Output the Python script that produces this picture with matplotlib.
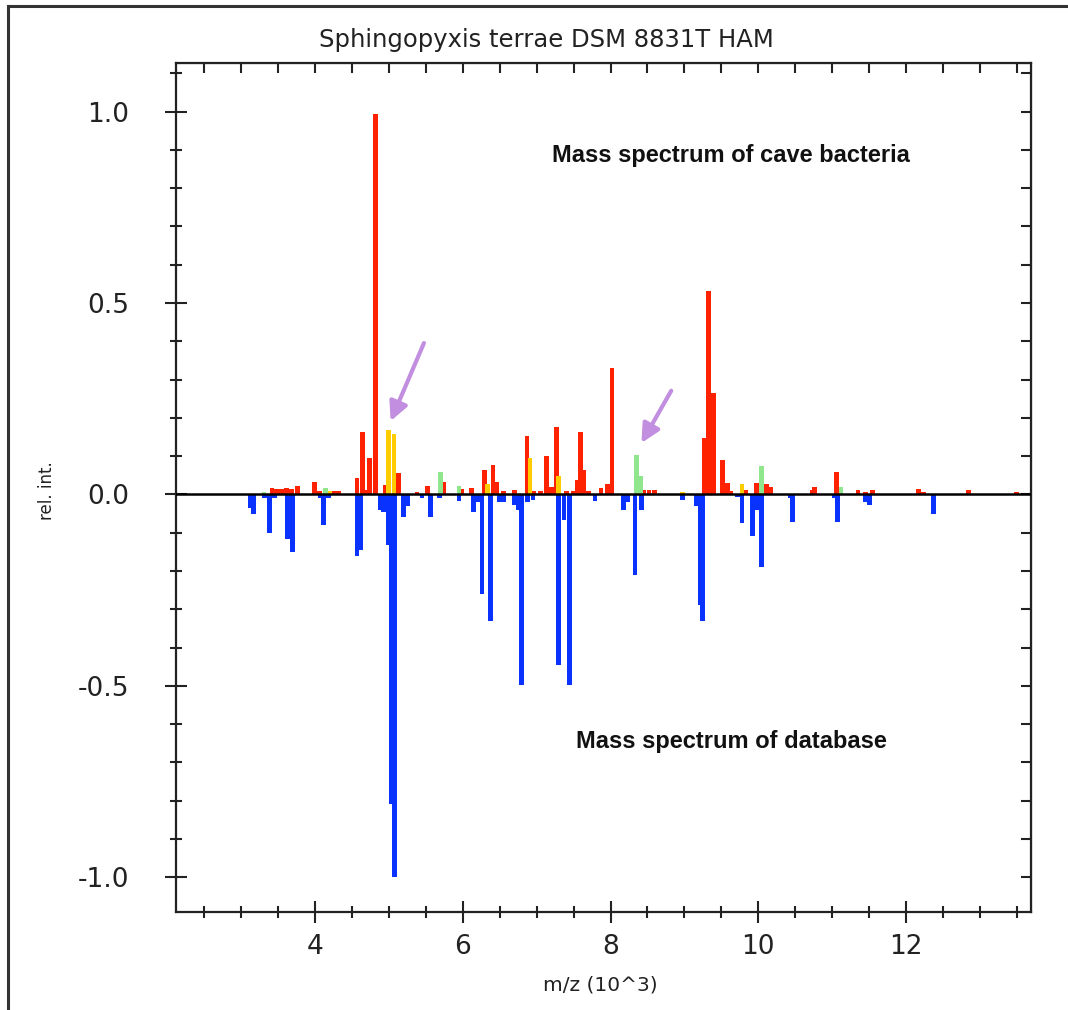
import matplotlib
matplotlib.use("Agg")
import matplotlib.pyplot as plt
from matplotlib.lines import Line2D
from matplotlib.ticker import MultipleLocator

# ---- data (m/z in 10^3, relative intensity) ----
red_mz = [3.42, 3.48, 3.55, 3.62, 3.68, 3.76, 3.99, 4.06, 4.25, 4.32, 4.57, 4.64, 4.69, 4.74,
          4.82, 4.95, 5.13, 5.38, 5.52, 5.74, 5.99, 6.12, 6.30, 6.41, 6.46, 6.55, 6.70,
          6.87, 6.96, 7.05, 7.13, 7.20, 7.27, 7.40, 7.50, 7.55, 7.59, 7.64, 7.70, 7.87,
          7.96, 8.02, 8.45, 8.52, 8.59, 9.27, 9.33, 9.39, 9.51, 9.58, 9.63, 9.83, 9.97,
          10.11, 10.16, 10.73, 10.76, 11.06, 11.35, 11.45, 11.54, 12.17, 12.23, 12.84, 13.49]
red_int = [0.016, 0.014, 0.014, 0.016, 0.014, 0.022, 0.032, 0.010, 0.008, 0.008, 0.042, 0.162,
           0.012, 0.095, 0.995, 0.025, 0.057, 0.006, 0.023, 0.032, 0.013, 0.016, 0.063, 0.078,
           0.032, 0.008, 0.012, 0.152, 0.010, 0.010, 0.099, 0.020, 0.177, 0.010, 0.010, 0.037,
           0.162, 0.063, 0.010, 0.016, 0.027, 0.329, 0.012, 0.012, 0.012, 0.147, 0.531, 0.266,
           0.089, 0.030, 0.010, 0.012, 0.031, 0.026, 0.020, 0.012, 0.020, 0.058, 0.012, 0.006,
           0.012, 0.015, 0.006, 0.012, 0.006]

yellow_mz = [4.20, 5.00, 5.07, 6.34, 6.91, 7.30, 8.97, 9.78]
yellow_int = [0.008, 0.167, 0.157, 0.028, 0.094, 0.048, 0.005, 0.026]

green_mz = [3.31, 4.14, 5.70, 5.95, 8.35, 8.41, 10.04, 11.12]
green_int = [0.005, 0.016, 0.058, 0.022, 0.104, 0.048, 0.073, 0.020]

blue_mz = [3.13, 3.17, 3.32, 3.39, 3.45, 3.63, 3.70, 4.07, 4.12, 4.18, 4.57, 4.62, 4.88, 4.93,
           4.99, 5.03, 5.08, 5.20, 5.25, 5.45, 5.56, 5.69, 5.95, 6.15, 6.20, 6.26, 6.38, 6.50,
           6.55, 6.70, 6.75, 6.80, 6.88, 6.95, 7.30, 7.37, 7.44, 7.79, 8.18, 8.23, 8.33, 8.42,
           8.97, 9.16, 9.21, 9.25, 9.72, 9.78, 9.92, 9.98, 10.04, 10.43, 10.46, 11.03, 11.07,
           11.45, 11.50, 12.37]
blue_int = [-0.036, -0.050, -0.010, -0.100, -0.010, -0.117, -0.150, -0.010, -0.080, -0.010,
            -0.160, -0.145, -0.040, -0.045, -0.133, -0.810, -1.000, -0.060, -0.030, -0.010,
            -0.060, -0.010, -0.017, -0.045, -0.020, -0.259, -0.332, -0.020, -0.020, -0.027,
            -0.040, -0.498, -0.020, -0.015, -0.446, -0.066, -0.498, -0.016, -0.040, -0.020,
            -0.210, -0.040, -0.015, -0.030, -0.290, -0.332, -0.008, -0.076, -0.110, -0.040,
            -0.190, -0.010, -0.072, -0.010, -0.072, -0.020, -0.028, -0.050]

x_major = [4, 6, 8, 10, 12]
y_major = [-1.0, -0.5, 0.0, 0.5, 1.0]
title = "Sphingopyxis terrae DSM 8831T HAM"
top_label = "Mass spectrum of cave bacteria"
bottom_label = "Mass spectrum of database"

# ---- figure ----
fig = plt.figure(figsize=(10.68, 10.10), dpi=100)
ax = fig.add_axes([176 / 1068, 1 - 912 / 1010, (1031 - 176) / 1068, (912 - 63) / 1010])

bw = 0.065
ax.bar(blue_mz, blue_int, width=bw, color="#0a32ff", linewidth=0, zorder=2)
ax.bar(red_mz, red_int, width=bw, color="#ff2200", linewidth=0, zorder=3)
ax.bar(yellow_mz, yellow_int, width=bw, color="#ffcc00", linewidth=0, zorder=4)
ax.bar(green_mz, green_int, width=bw, color="#90e68c", linewidth=0, zorder=4)
ax.axhline(0, color="black", lw=1.8, zorder=5)

ax.set_xlim(2.12, 13.69)
ax.set_ylim(-1.091, 1.127)

ax.xaxis.set_major_locator(MultipleLocator(2))
ax.xaxis.set_minor_locator(MultipleLocator(0.5))
ax.yaxis.set_major_locator(MultipleLocator(0.5))
ax.yaxis.set_minor_locator(MultipleLocator(0.1))
ax.set_xticks(x_major)
ax.set_xticklabels([str(v) for v in x_major])
ax.set_yticks(y_major)
ax.set_yticklabels([f"{v:.1f}" for v in y_major])

ax.tick_params(axis="both", which="major", direction="inout", length=16, width=1.5,
               labelsize=19, color="#222222", labelcolor="#222222")
ax.tick_params(axis="both", which="minor", direction="inout", length=9, width=1.5,
               color="#222222")
ax.tick_params(axis="y", which="major", pad=26)
ax.tick_params(axis="x", which="major", pad=8)

for s in ax.spines.values():
    s.set_linewidth(1.6)
    s.set_color("#222222")

# top and right inward ticks
sec_x = ax.secondary_xaxis("top")
sec_x.xaxis.set_major_locator(MultipleLocator(0.5))
sec_x.tick_params(direction="in", length=7, width=1.5, labelsize=0, labeltop=False,
                  color="#222222")
sec_y = ax.secondary_yaxis("right")
sec_y.yaxis.set_major_locator(MultipleLocator(0.1))
sec_y.tick_params(direction="in", length=7, width=1.5, labelright=False, color="#222222")
sec_y.yaxis.set_minor_locator(MultipleLocator(0.5))
sec_y.tick_params(which="minor", direction="in", length=16, width=1.5, color="#222222")

# annotations
ax.text(9.63, 0.885, top_label, ha="center", va="center", fontsize=17,
        fontweight="bold", family=["Liberation Sans", "DejaVu Sans"], color="#111111")
ax.text(9.64, -0.645, bottom_label, ha="center", va="center", fontsize=17,
        fontweight="bold", family=["Liberation Sans", "DejaVu Sans"], color="#111111")

arrow_color = "#c28ee0"
ax.annotate("", xy=(5.01, 0.185), xytext=(5.49, 0.402),
            arrowprops=dict(arrowstyle="-|>", color=arrow_color, lw=3, mutation_scale=28),
            zorder=6)
ax.annotate("", xy=(8.40, 0.128), xytext=(8.84, 0.277),
            arrowprops=dict(arrowstyle="-|>", color=arrow_color, lw=3, mutation_scale=28),
            zorder=6)

# labels and title
fig.text(546 / 1068, 1 - 40 / 1010, title, ha="center", va="center", fontsize=17.5,
         color="#222222")
fig.text(47 / 1068, 1 - 491 / 1010, "rel. int.", ha="center", va="center", rotation=90,
         fontsize=12, color="#222222")
fig.text(600 / 1068, 1 - 985 / 1010, "m/z (10^3)", ha="center", va="center", fontsize=14.5,
         color="#222222")

# outer frame (left and top edges)
fig.add_artist(Line2D([8 / 1068, 8 / 1068], [0, 1 - 6 / 1010], transform=fig.transFigure,
                      color="#333333", lw=2.2))
fig.add_artist(Line2D([8 / 1068, 1], [1 - 6 / 1010, 1 - 6 / 1010], transform=fig.transFigure,
                      color="#333333", lw=2.2))

fig.savefig("out.png", dpi=100)
